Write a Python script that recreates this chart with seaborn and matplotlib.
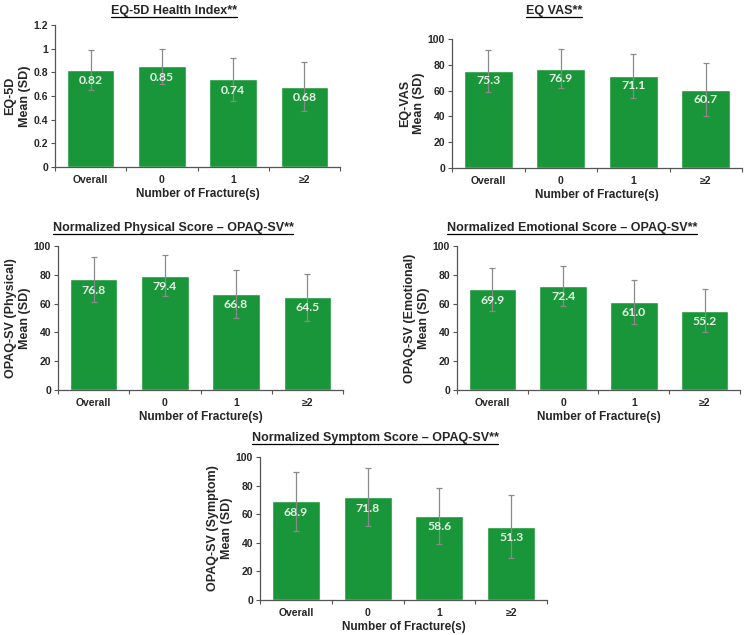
import matplotlib
matplotlib.use("Agg")
import matplotlib.pyplot as plt
import seaborn as sns
import numpy as np
from matplotlib.lines import Line2D

# data
categories = ["Overall", "0", "1", "\u22652"]

eq5d_mean = [0.82, 0.85, 0.74, 0.68]
eq5d_sd = [0.17, 0.15, 0.18, 0.21]

eqvas_mean = [75.3, 76.9, 71.1, 60.7]
eqvas_sd = [16.0, 15.0, 17.0, 20.5]

physical_mean = [76.8, 79.4, 66.8, 64.5]
physical_sd = [15.6, 14.3, 16.5, 16.3]

emotional_mean = [69.9, 72.4, 61.0, 55.2]
emotional_sd = [15.0, 13.9, 15.2, 14.6]

symptom_mean = [68.9, 71.8, 58.6, 51.3]
symptom_sd = [20.6, 20.3, 19.5, 21.8]

panel_titles = [
    "EQ-5D Health Index**",
    "EQ VAS**",
    "Normalized Physical Score \u2013 OPAQ-SV**",
    "Normalized Emotional Score \u2013 OPAQ-SV**",
    "Normalized Symptom Score \u2013 OPAQ-SV**",
]
panel_ylabels = [
    "EQ-5D\nMean (SD)",
    "EQ-VAS\nMean (SD)",
    "OPAQ-SV (Physical)\nMean (SD)",
    "OPAQ-SV (Emotional)\nMean (SD)",
    "OPAQ-SV (Symptom)\nMean (SD)",
]
xlabel = "Number of Fracture(s)"

BAR = "#199639"
W, H = 745, 635

sns.set_theme(style="ticks")
plt.rcParams["font.family"] = ["Liberation Sans", "DejaVu Sans"]
plt.rcParams["font.weight"] = "bold"


def px_rect(left, right, top, bottom):
    return [left / W, 1 - bottom / H, (right - left) / W, (bottom - top) / H]


def draw_panel(fig, rect, means, sds, ylabel, ymax, step, fmt):
    ax = fig.add_axes(rect)
    sns.barplot(x=categories, y=means, color=BAR, width=0.67, saturation=1,
                errorbar=None, ax=ax)
    centers = [p.get_x() + p.get_width() / 2 for p in ax.patches]
    ax.errorbar(centers, means, yerr=sds, fmt="none", ecolor="#8a8a8a",
                elinewidth=0.9, capsize=2.2, capthick=0.9)
    for cx, m in zip(centers, means):
        ax.text(cx, m - 0.075 * ymax, fmt.format(m), ha="center", va="center",
                color="#e6f2e6", fontsize=8.8, fontweight="bold",
                family=["Lato", "DejaVu Sans"])
    ax.set_ylim(0, ymax)
    ax.set_xlim(-0.5, len(categories) - 0.5)
    yt = np.arange(0, ymax + step / 2, step)
    ax.set_yticks(yt)
    ax.set_yticklabels(["{:g}".format(round(v, 2)) for v in yt])
    ax.set_xticks(np.arange(len(categories)))
    ax.set_xticks(np.arange(len(categories) + 1) - 0.5, minor=True)
    ax.tick_params(axis="x", which="major", length=0, pad=6, labelsize=7.5)
    ax.tick_params(axis="x", which="minor", length=3, width=0.8, color="#555555")
    ax.tick_params(axis="y", length=3, width=0.8, color="#555555", labelsize=7.5, pad=2)
    for lab in ax.get_xticklabels() + ax.get_yticklabels():
        lab.set_fontweight("bold")
    for s in ["top", "right"]:
        ax.spines[s].set_visible(False)
    for s in ["left", "bottom"]:
        ax.spines[s].set_color("#555555")
        ax.spines[s].set_linewidth(0.9)
    yl = ax.set_ylabel(ylabel, fontsize=9, fontweight="bold", labelpad=2, linespacing=1.25)
    yl.set_multialignment("center")
    ax.set_xlabel(xlabel, fontsize=8.5, fontweight="bold", labelpad=2)
    return ax


fig = plt.figure(figsize=(7.45, 6.35), dpi=100)

panels = [
    (px_rect(55, 340, 25, 167), eq5d_mean, eq5d_sd, 1.2, 0.2, "{:.2f}", (174, 11)),
    (px_rect(452, 742, 39, 168), eqvas_mean, eqvas_sd, 100, 20, "{:.1f}", (554, 11)),
    (px_rect(58, 343, 246, 390), physical_mean, physical_sd, 100, 20, "{:.1f}", (173, 228)),
    (px_rect(457, 740, 246, 390), emotional_mean, emotional_sd, 100, 20, "{:.1f}", (572, 228)),
    (px_rect(260, 547, 457, 600), symptom_mean, symptom_sd, 100, 20, "{:.1f}", (375, 438)),
]

titles = []
for i, (rect, m, sd, ymax, step, fmt, tpos) in enumerate(panels):
    draw_panel(fig, rect, m, sd, panel_ylabels[i], ymax, step, fmt)
    t = fig.text(tpos[0] / W, 1 - tpos[1] / H, panel_titles[i], ha="center",
                 va="center", fontsize=9, fontweight="bold")
    titles.append(t)

# underline the titles
fig.canvas.draw()
renderer = fig.canvas.get_renderer()
for t in titles:
    bb = t.get_window_extent(renderer).transformed(fig.transFigure.inverted())
    y = bb.y0 + 0.1 * (bb.y1 - bb.y0) - 0.002
    fig.add_artist(Line2D([bb.x0, bb.x1], [y, y], transform=fig.transFigure,
                          color="black", linewidth=0.9))

fig.savefig("out.png", dpi=100)
